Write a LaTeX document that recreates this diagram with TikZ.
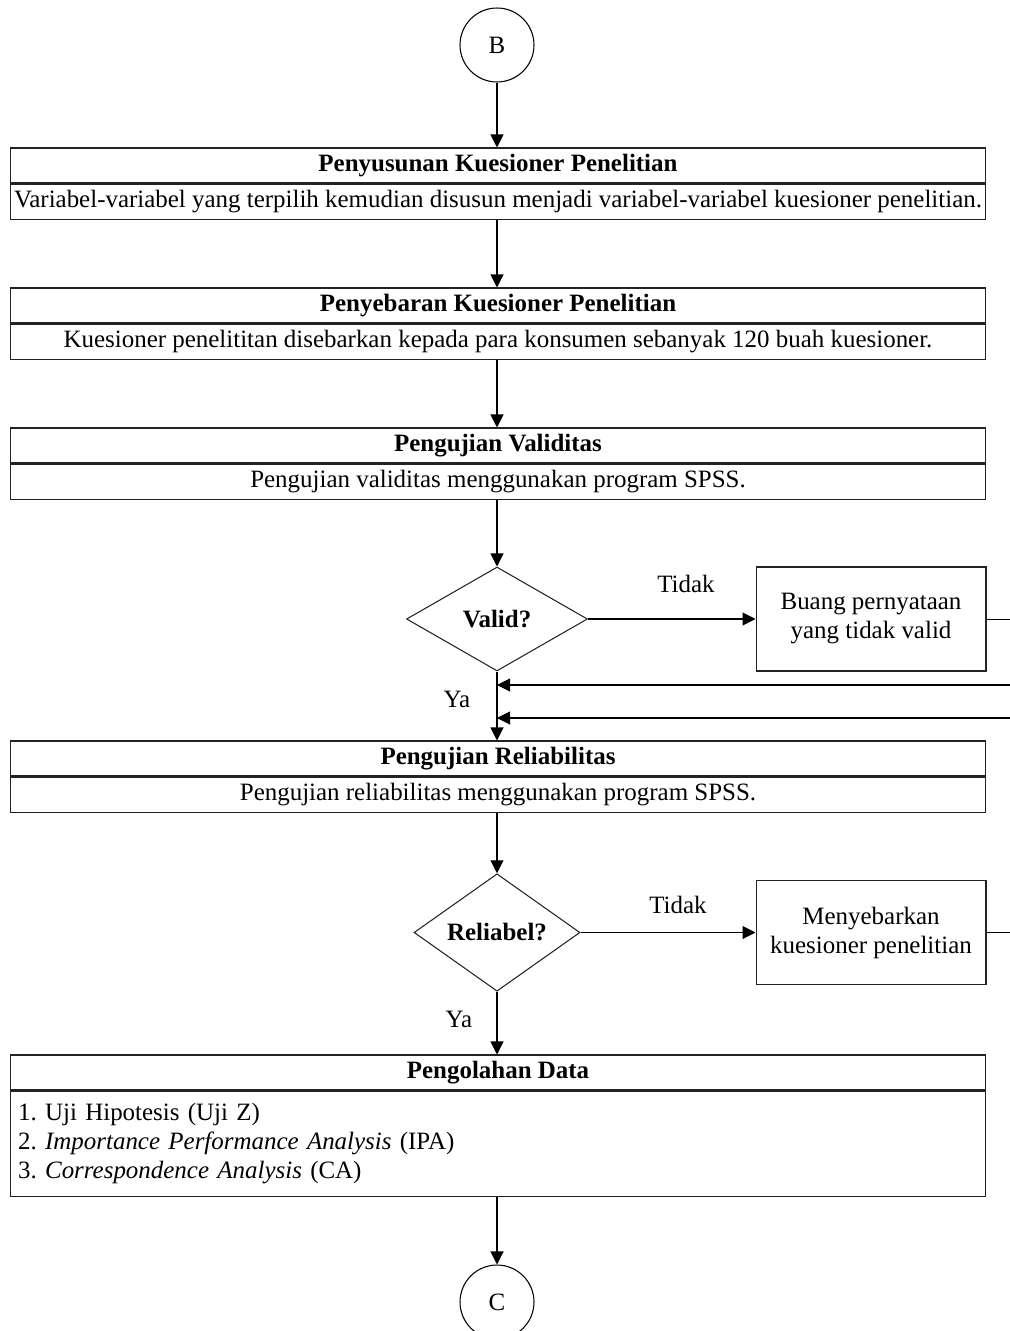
\documentclass[tikz,border=0pt]{standalone}
\usepackage{fontspec}
\setmainfont{Liberation Serif}
\usetikzlibrary{shapes.geometric,arrows.meta,positioning}
\begin{document}
\begin{tikzpicture}[x=0.02cm, y=-0.02cm,
    every node/.style={font=\fontsize{14.2}{16.5}\selectfont},
    hdr/.style={draw=outline, line width=0.6pt, minimum width=19.52cm, minimum height=0.7cm, inner sep=0pt, font=\fontsize{14.2}{16.5}\selectfont\bfseries},
    bodybox/.style={draw=outline, line width=0.6pt, minimum width=19.52cm, minimum height=0.7cm, inner sep=0pt},
    listbox/.style={draw=outline, line width=0.6pt, text width=19.2cm, inner xsep=0.16cm, inner ysep=0pt, minimum height=2.1cm, align=left, font=\fontsize{14.2}{16.7}\selectfont\frenchspacing},
    conn/.style={draw, circle, line width=0.6pt, minimum size=1.48cm, inner sep=0pt},
    dec/.style={draw=outline, diamond, line width=0.6pt, inner sep=0pt, font=\fontsize{14.2}{16.5}\selectfont\bfseries},
    sidebox/.style={draw=outline, line width=0.6pt, minimum width=4.6cm, minimum height=2.08cm, align=center, inner sep=0pt},
    arr/.style={-{Triangle[length=2.6mm,width=2.6mm]}, line width=0.6pt}]
  \definecolor{outline}{RGB}{35,35,35}
  \useasboundingbox (0,0) rectangle (1010,1331);

  \node[conn] (B) at (497,45) {B};

  \node[hdr] (t1) at (498,165.5) {Penyusunan Kuesioner Penelitian};
  \node[bodybox, below=0pt of t1] (b1) {Variabel-variabel yang terpilih kemudian disusun menjadi variabel-variabel kuesioner penelitian.};

  \node[hdr] (t2) at (498,305.5) {Penyebaran Kuesioner Penelitian};
  \node[bodybox, below=0pt of t2] (b2) {Kuesioner penelititan disebarkan kepada para konsumen sebanyak 120 buah kuesioner.};

  \node[hdr] (t3) at (498,445.5) {Pengujian Validitas};
  \node[bodybox, below=0pt of t3] (b3) {Pengujian validitas menggunakan program SPSS.};

  \node[dec, minimum width=3.62cm, minimum height=2.08cm] (v1) at (497,619) {Valid?};
  \node[sidebox] (r1) at (871,619) {Buang pernyataan\\yang tidak valid};
  \node (tk1) at (686,584) {Tidak};
  \node (ya1) at (457,699) {Ya};
  \coordinate (fb1) at (1015,685);
  \coordinate (fb2) at (1015,718);

  \node[hdr] (t4) at (498,758.5) {Pengujian Reliabilitas};
  \node[bodybox, below=0pt of t4] (b4) {Pengujian reliabilitas menggunakan program SPSS.};

  \node[dec, minimum width=3.32cm, minimum height=2.1cm] (v2) at (497,932.5) {Reliabel?};
  \node[sidebox] (r2) at (871,932.5) {Menyebarkan\\kuesioner penelitian};
  \node (tk2) at (678,905) {Tidak};
  \node (ya2) at (459,1019) {Ya};
  \coordinate (fb3) at (1015,932.5);

  \node[hdr] (t5) at (498,1072.5) {Pengolahan Data};
  \node[listbox, below=0pt of t5] (b5) {1. Uji Hipotesis (Uji Z)\\2. \textit{Importance Performance Analysis} (IPA)\\3. \textit{Correspondence Analysis} (CA)};

  \node[conn] (C) at (497,1302) {C};

  \draw[arr] (B) -- (B |- t1.north);
  \draw[arr] (b1.south -| B) -- (t2.north -| B);
  \draw[arr] (b2.south -| B) -- (t3.north -| B);
  \draw[arr] (b3.south -| B) -- (v1.north);
  \draw[arr] (v1.east) -- (r1.west);
  \draw (r1.east) -- (r1.east -| fb1);
  \draw[arr] (fb1) -- (fb1 -| v1.south);
  \draw[arr] (fb2) -- (fb2 -| v1.south);
  \draw[arr] (v1.south) -- (t4.north -| v1.south);
  \draw[arr] (b4.south -| B) -- (v2.north);
  \draw[arr] (v2.east) -- (r2.west);
  \draw (r2.east) -- (fb3);
  \draw[arr] (v2.south) -- (t5.north -| v2.south);
  \draw[arr] (b5.south -| B) -- (C);
\end{tikzpicture}
\end{document}
